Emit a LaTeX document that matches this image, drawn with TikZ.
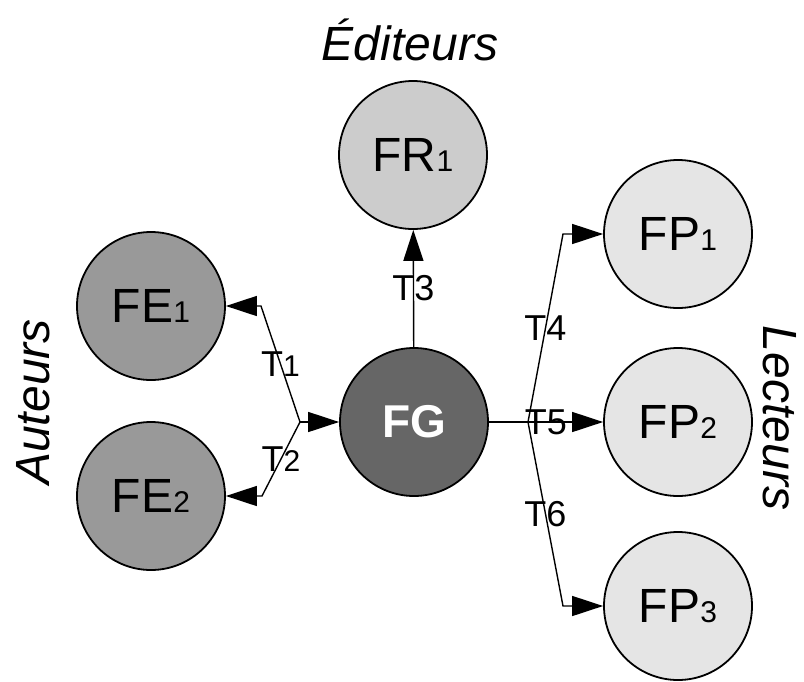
\documentclass[tikz,border=0pt]{standalone}
\usepackage{fontspec}
\setmainfont{Liberation Sans}
\usetikzlibrary{arrows.meta}

\begin{document}
\begin{tikzpicture}[x=1pt, y=-1pt, >={Triangle[length=31pt, width=20pt]}]

\def\rad{148pt}
\def\idx#1{{\fontsize{30}{30}\selectfont #1}}

% Colours
\colorlet{fecolor}{black!40}
\colorlet{frcolor}{black!20}
\colorlet{fpcolor}{black!10}
\colorlet{fgcolor}{black!60}

% Styles
\tikzstyle{station}=[circle, draw=black, line width=1.8pt, minimum size=\rad, inner sep=0pt, font=\fontsize{48}{48}\selectfont]
\tikzstyle{flow}=[line width=1.4pt, ->]
\tikzstyle{tlabel}=[font=\fontsize{36}{36}\selectfont, inner sep=0pt]
\tikzstyle{group}=[font=\fontsize{48}{48}\selectfont\itshape]

\useasboundingbox (0,0) rectangle (804,681);

% Stations
\node[station, fill=frcolor] (FR1) at (413,155) {FR\idx{1}};
\node[station, fill=fecolor] (FE1) at (151,306) {FE\idx{1}};
\node[station, fill=fecolor] (FE2) at (151,496) {FE\idx{2}};
\node[station, fill=fgcolor, text=white, font=\fontsize{46}{46}\selectfont\bfseries] (FG) at (414,422) {FG};
\node[station, fill=fpcolor] (FP1) at (678,234) {FP\idx{1}};
\node[station, fill=fpcolor] (FP2) at (678,422) {FP\idx{2}};
\node[station, fill=fpcolor] (FP3) at (678,606) {FP\idx{3}};

% Groups
\node[group] (edit) at (410,40) {Éditeurs};
\node[group, rotate=90] (aut) at (33,402) {Auteurs};
\node[group, rotate=-90] (lect) at (780,418) {Lecteurs};

% Junctions and bends
\coordinate (J1) at (300,422);
\coordinate (B1) at (261,306);
\coordinate (B2) at (262,496);
\coordinate (J2) at (528,422);
\coordinate (B4) at (563,234);
\coordinate (B6) at (563,606);

% Flows
\draw[flow] (J1) -- node[tlabel]{T\idx{1}} (B1) -- (FE1);
\draw[flow] (J1) -- node[tlabel]{T\idx{2}} (B2) -- (FE2);
\draw[flow] (J1) -- (FG);
\draw[flow] (FG) -- node[tlabel]{T3} (FR1);
\draw[flow] (FG) -- node[tlabel]{T5} (FP2);
\draw[flow] (J2) -- node[tlabel]{T4} (B4) -- (FP1);
\draw[flow] (J2) -- node[tlabel]{T6} (B6) -- (FP3);

\end{tikzpicture}
\end{document}
